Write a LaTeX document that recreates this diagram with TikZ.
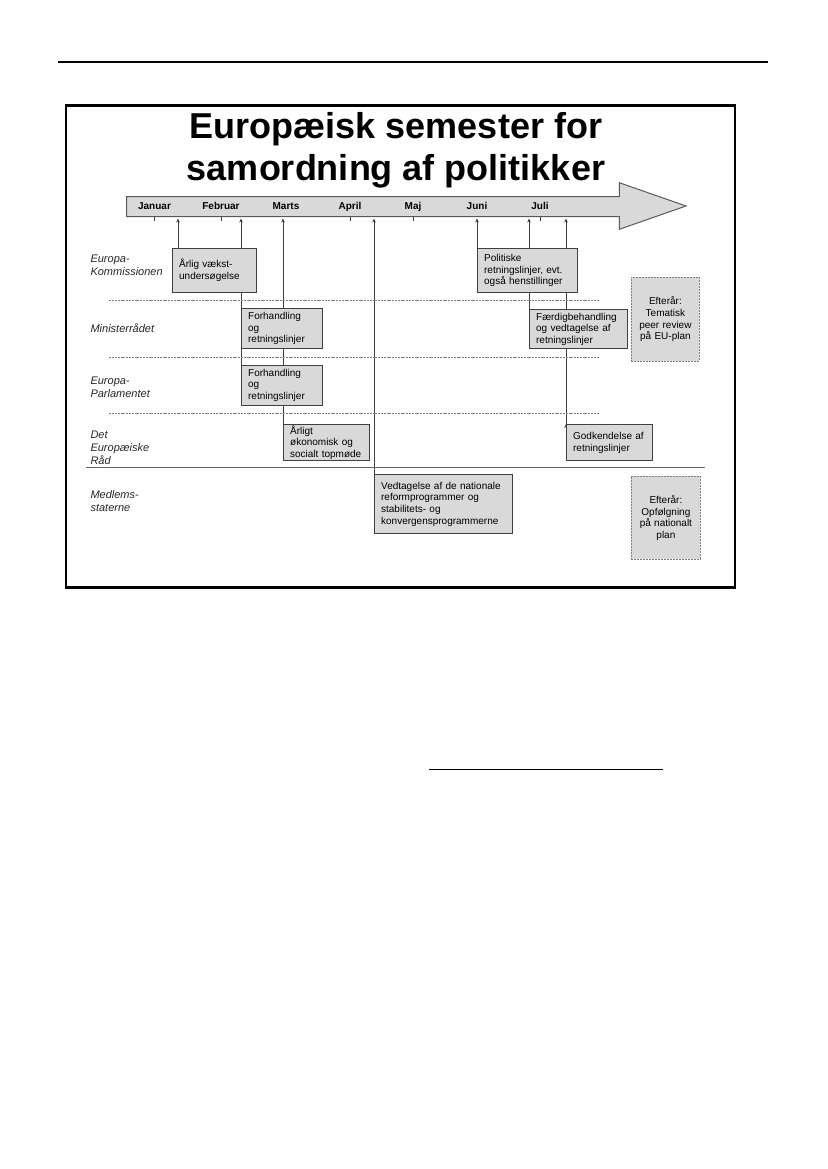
\documentclass[tikz,border=0pt]{standalone}
\usepackage{fontspec}
\setmainfont{Liberation Sans}
\usetikzlibrary{positioning,arrows.meta,backgrounds}

\definecolor{boxgray}{HTML}{D9D9D9}
\definecolor{linegray}{HTML}{404040}

\tikzset{
  task/.style={draw=linegray, line width=1.3pt, fill=boxgray, anchor=north west,
    align=left, inner xsep=6.5pt, inner ysep=0pt, font=\fontsize{10}{11.7}\selectfont},
  autumn/.style={draw=gray, line width=0.8pt, dash pattern=on 2pt off 1pt, fill=boxgray,
    anchor=north west, align=center, inner xsep=3pt, inner ysep=0pt,
    font=\fontsize{10}{11.7}\selectfont},
  actor/.style={anchor=west, align=left, text=black!85, font=\itshape\fontsize{11}{13}\selectfont},
  month/.style={anchor=base, font=\bfseries\fontsize{10}{12}\selectfont},
  lane/.style={gray, line width=0.8pt, dash pattern=on 2pt off 0.8pt},
  conn/.style={draw=linegray, line width=0.9pt, -{Stealth[length=4pt,width=3.5pt]}},
}

\begin{document}
\begin{tikzpicture}[x=1pt, y=-1pt]
  \useasboundingbox (0,0) rectangle (827,1169);

  % page rules
  \draw[line width=1.2pt] (58,62) -- (768,62);
  \draw[line width=1.3pt] (429,769.3) -- (662.7,769.3);

  % frame
  \draw[line width=2.8pt] (66,105.7) rectangle (735,587.7);

  % title
  \node[anchor=base, font=\bfseries\fontsize{36}{40}\selectfont] (title1) at (396,138.5) {Europæisk semester for};
  \node[anchor=base, font=\bfseries\fontsize{36}{40}\selectfont] (title2) at (396,181) {samordning af politikker};

  % timeline arrow
  \draw[fill=boxgray, draw=gray!70!black, line width=1pt]
    (126.7,196.7) -- (619.3,196.7) -- (619.3,182.7) -- (686,206) -- (619.3,229.3)
    -- (619.3,216.7) -- (126.7,216.7) -- cycle;
  \coordinate (tlb) at (0,218.5);

  \node[month] (jan) at (154.5,209.6) {Januar};
  \node[month] (feb) at (221,209.6) {Februar};
  \node[month] (mar) at (286,209.6) {Marts};
  \node[month] (apr) at (350,209.6) {April};
  \node[month] (maj) at (413,209.6) {Maj};
  \node[month] (jun) at (477,209.6) {Juni};
  \node[month] (jul) at (540,209.6) {Juli};
  \foreach \m in {jan,feb,apr,maj,jul}
    \draw[linegray, line width=0.8pt] (\m |- 0,216.7) -- ++(0,4.5);

  % actors
  \node[actor] (kom) at (87,265) {Europa-\\Kommissionen};
  \node[actor] (raad) at (87,328) {Ministerrådet};
  \node[actor] (parl) at (87,387) {Europa-\\Parlamentet};
  \node[actor] (det) at (87,448) {Det\\Europæiske\\Råd};
  \node[actor] (med) at (87,501.5) {Medlems-\\staterne};

  % lanes
  \draw[lane] (109.3,300.7) -- (599,300.7);
  \draw[lane] (109.3,357.3) -- (599,357.3);
  \draw[lane] (109.3,413.3) -- (599,413.3);
  \draw[draw=gray!80!black, line width=1.4pt] (86,467.7) -- (705,467.7);

  % steps
  \node[task, text width=71pt, minimum height=43.5pt] (vaekst) at (172,248) {Årlig vækst-\\undersøgelse};
  \node[task, text width=68pt, minimum height=40pt] (forhMR) at (241,308) {Forhandling\\og\\retningslinjer};
  \node[task, text width=68pt, minimum height=40.5pt] (forhEP) at (241,364.5) {Forhandling\\og\\retningslinjer};
  \node[task, text width=73pt, minimum height=36pt] (topm) at (283,424) {Årligt\\økonomisk og\\socialt topmøde};
  \node[task, text width=125pt, minimum height=59pt] (vedt) at (374,474) {Vedtagelse af de nationale\\reformprogrammer og\\stabilitets- og\\konvergensprogrammerne};
  \node[task, text width=87pt, minimum height=44pt] (polit) at (477,248) {Politiske\\retningslinjer, evt.\\også henstillinger};
  \node[task, text width=85pt, minimum height=39pt] (faerd) at (529,309) {Færdigbehandling\\og vedtagelse af\\retningslinjer};
  \node[task, text width=73pt, minimum height=36pt] (godk) at (566,424) {Godkendelse af\\retningslinjer};

  \node[autumn, text width=62pt, minimum height=84pt] (peer) at (631,277) {Efterår:\\Tematisk\\peer review\\på EU-plan};
  \node[autumn, text width=63pt, minimum height=83pt] (opf) at (631,476) {Efterår:\\Opfølgning\\på nationalt\\plan};

  % connectors to the timeline
  \begin{scope}[on background layer]
    \coordinate (v0) at ([xshift=6pt]vaekst.north west);
    \path[conn]
      (v0) edge (v0 |- tlb)
      (forhEP.north west) edge (forhEP.north west |- tlb)
      (topm.north west) edge (topm.north west |- tlb)
      (vedt.north west) edge (vedt.north west |- tlb)
      (polit.north west) edge (polit.north west |- tlb)
      (faerd.north west) edge (faerd.north west |- tlb)
      (godk.north west) edge (godk.north west |- tlb);
  \end{scope}
\end{tikzpicture}
\end{document}
